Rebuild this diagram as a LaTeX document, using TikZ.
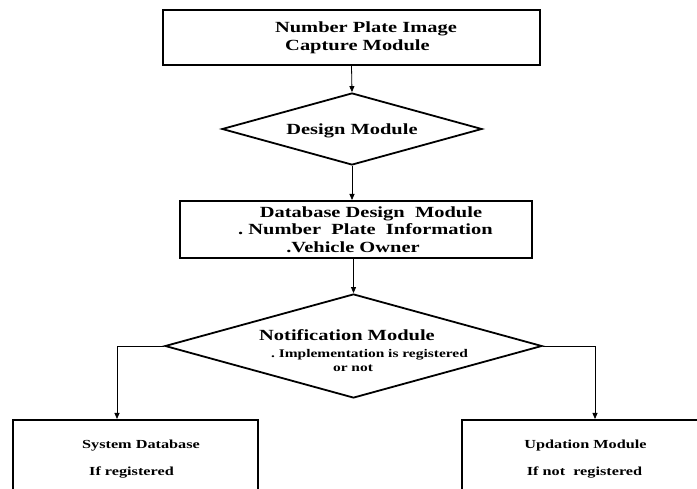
\documentclass[tikz,border=0pt]{standalone}
\usepackage{fontspec}
\setmainfont{Liberation Serif}[FakeStretch=1.32]
\usetikzlibrary{shapes.geometric,arrows.meta}
\begin{document}
\begin{tikzpicture}[x=1pt,y=-1pt,
  box/.style={draw,line width=2pt,rectangle,inner sep=0pt,align=center},
  dia/.style={draw,line width=1.8pt,diamond,aspect=3.6,inner sep=0pt,align=center},
  link/.style={line width=0.8pt,-{Triangle[length=6pt,width=5pt]}},
  big/.style={font=\bfseries\fontsize{15.5}{18}\selectfont},
  small/.style={font=\bfseries\fontsize{12.3}{27}\selectfont}]
\useasboundingbox (0,0) rectangle (697,489);
\clip (0,0) rectangle (697,489);

\node[box,big,minimum width=377pt,minimum height=55pt] (cap) at (351.5,37.5)
  {\hspace*{29pt}Number Plate Image\\\hspace*{12pt}Capture Module};

\node[dia,big,minimum width=260pt,minimum height=72pt] (des) at (352,129)
  {\rule{0pt}{15.4pt}Design Module};

\node[box,font=\bfseries\fontsize{15.5}{17.5}\selectfont,minimum width=352pt,minimum height=57pt] (db) at (356,229.5)
  {\hspace*{30pt}Database Design\ \ Module\\\hspace*{19pt}.\ Number\ \ Plate\ \ Information\\.Vehicle Owner\hspace*{6pt}};

\node[dia,minimum width=377pt,minimum height=104pt] (notif) at (353.5,346) {};
\node[inner sep=0pt,align=center,font=\bfseries\fontsize{11.7}{14}\selectfont] (notiftext) at (353.5,350.15)
  {{\fontsize{15.5}{17}\selectfont Notification Module\hspace*{13pt}}\\[3pt]\hspace*{32pt}.\ Implementation is registered\\or not\hspace*{1pt}};

\node[box,small,minimum width=245pt,minimum height=77.2pt] (sys) at (135.5,458.6)
  {\hspace*{11pt}System Database\\If registered\hspace*{8pt}};

\node[box,small,minimum width=245pt,minimum height=77.2pt] (upd) at (584.5,458.6)
  {\hspace*{2pt}Updation Module\\If not\ \ registered};

\coordinate (lc) at (117,346);
\coordinate (rc) at (595,346);

\draw[link] (cap.south) -- (des.north);
\draw[link] (des.south) -- (des.south |- db.north);
\draw[link] (notif.north |- db.south) -- (notif.north);
\draw[link] (notif.west) -- (lc) -- (lc |- sys.north);
\draw[link] (notif.east) -- (rc) -- (rc |- upd.north);
\end{tikzpicture}
\end{document}
